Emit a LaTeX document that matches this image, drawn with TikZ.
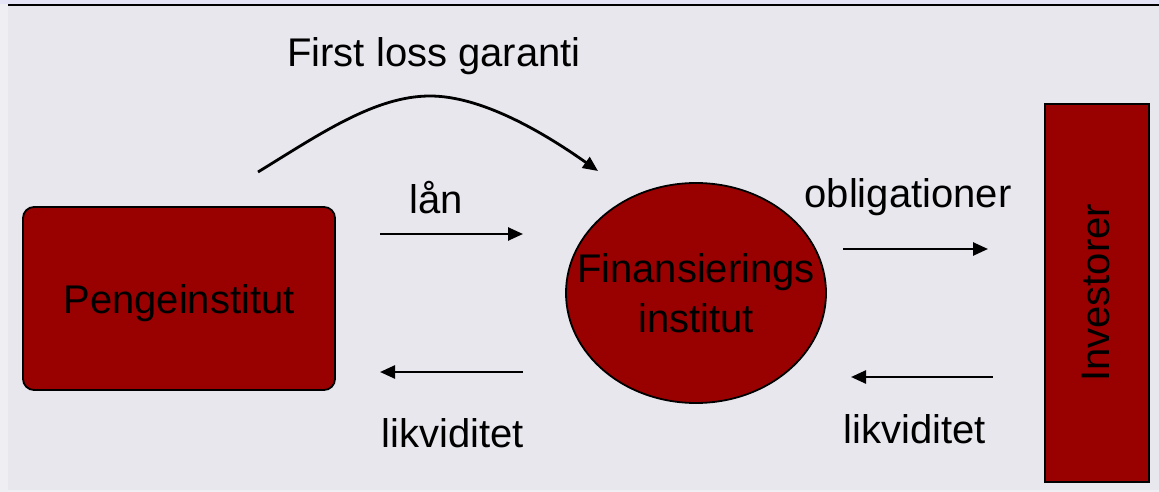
\documentclass[tikz,border=0pt]{standalone}
\usepackage{fontspec}
\setmainfont{Liberation Sans}
\usetikzlibrary{arrows.meta,shapes.geometric}
\definecolor{bgpanel}{RGB}{232,231,238}
\definecolor{topband}{RGB}{228,228,246}
\definecolor{leftband}{RGB}{238,238,243}
\definecolor{boxred}{RGB}{153,0,0}
\tikzset{
  txt/.style={font=\fontsize{40}{50}\selectfont, inner sep=0pt, text=black},
  flow/.style={line width=2.5pt, -{Triangle[length=15pt,width=13pt]}},
  redshape/.style={fill=boxred, draw=black, line width=1.8pt, inner sep=0pt}
}
\begin{document}
\begin{tikzpicture}[x=1pt,y=-1pt]
\useasboundingbox (0,0) rectangle (1159,492);
% slide background
\fill[leftband] (0,0) rectangle (1159,492);
\fill[bgpanel] (8,5) rectangle (1159,490);
\fill[topband] (0,0) rectangle (1159,4);
\draw[line width=2pt] (8,5) -- (1159,5);

% the three parties
\node[redshape, rectangle, rounded corners=11pt, minimum width=312pt, minimum height=183pt] (penge) at (179,298.5) {};
\node[redshape, ellipse, minimum width=260pt, minimum height=220pt] (fin) at (696,293) {};
\node[redshape, rectangle, line width=2pt, minimum width=104pt, minimum height=378pt] (inv) at (1097,293) {};

\node[txt, anchor=base] (penge-label) at (179,313) {Pengeinstitut};
\node[txt, align=center] (fin-label) at (fin.center) {Finansierings\\institut};
\node[txt, rotate=90, anchor=base] (inv-label) at (1109,293) {Investorer};

% guarantee arc
\coordinate (fl-s) at (258,172);
\coordinate (fl-top) at (430,96);
\coordinate (fl-e) at (598,171);
\draw[line width=2.8pt, -{Triangle[length=15pt,width=13pt]}]
  (fl-s) .. controls (320,134) and (375,96) .. (fl-top)
         .. controls (480,96) and (540,130) .. (fl-e);
\node[txt, anchor=base] (fl-label) at (434,67) {First loss garanti};

% loan and liquidity between bank and finance institute
\coordinate (lan-s) at (380,234);
\coordinate (lan-e) at (523,234);
\draw[flow] (lan-s) -- (lan-e);
\node[txt, anchor=base] (lan-label) at (436,213) {lån};

\coordinate (lik1-s) at (523,372);
\coordinate (lik1-e) at (380,372);
\draw[flow] (lik1-s) -- (lik1-e);
\node[txt, anchor=base] (lik1-label) at (453,447) {likviditet};

% bonds and liquidity between finance institute and investors
\coordinate (obl-s) at (843,249);
\coordinate (obl-e) at (988,249);
\draw[flow] (obl-s) -- (obl-e);
\node[txt, anchor=base] (obl-label) at (908,207) {obligationer};

\coordinate (lik2-s) at (993,377);
\coordinate (lik2-e) at (851,377);
\draw[flow] (lik2-s) -- (lik2-e);
\node[txt, anchor=base] (lik2-label) at (915,443) {likviditet};
\end{tikzpicture}
\end{document}
